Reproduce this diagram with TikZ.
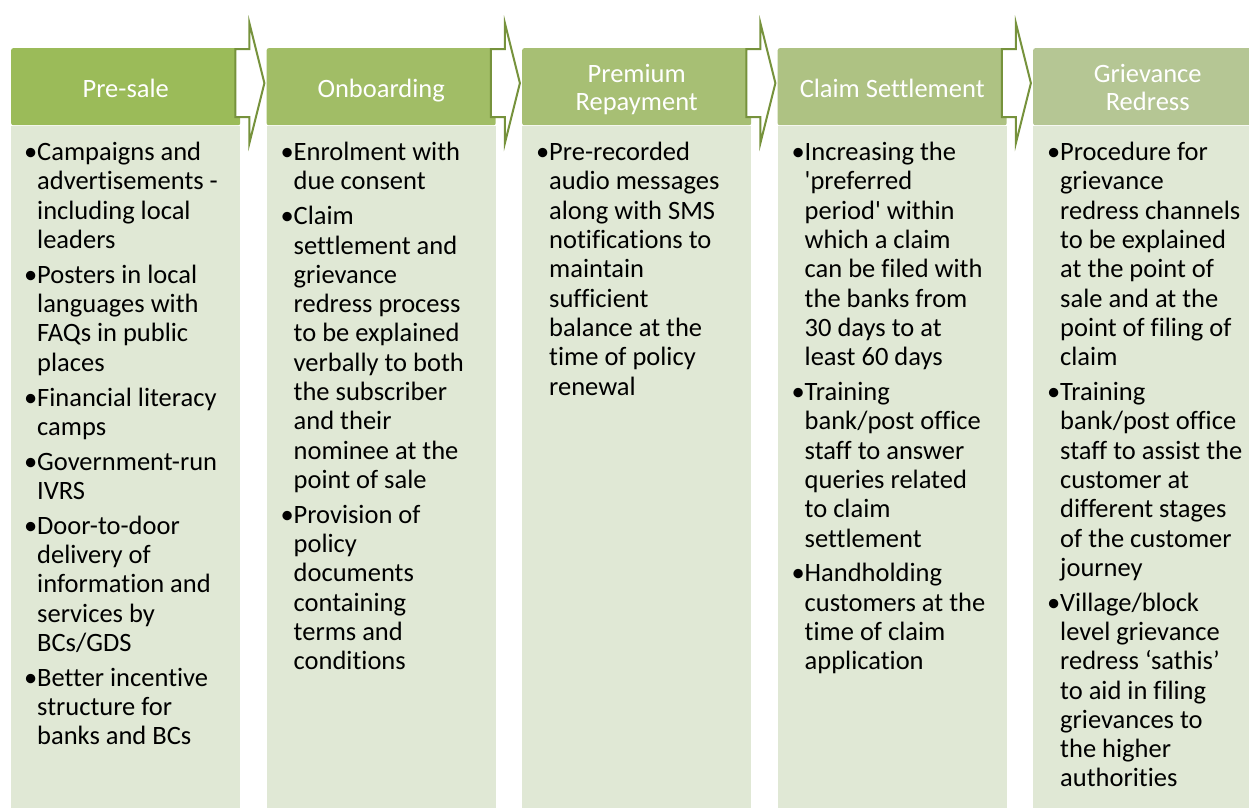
\documentclass[tikz,border=0pt]{standalone}
\usepackage{fontspec}
\setmainfont{Carlito}[Ligatures={TeX,NoCommon}]
\usetikzlibrary{positioning}

\definecolor{headA}{RGB}{155,187,89}
\definecolor{headB}{RGB}{161,189,102}
\definecolor{headC}{RGB}{167,191,116}
\definecolor{headD}{RGB}{174,194,131}
\definecolor{headE}{RGB}{181,198,148}
\definecolor{panelfill}{RGB}{224,232,213}
\definecolor{arrowline}{RGB}{118,146,60}

% bullet hanging left of the item text
\newcommand{\bul}{\strut\llap{•}}

\tikzset{
  stage/.style={rounded corners=2pt, minimum width=229pt, minimum height=77pt, anchor=north west, inner sep=0pt},
  panel/.style={fill=panelfill, minimum width=229pt, minimum height=682pt, anchor=north west, inner sep=0pt},
  stagetext/.style={anchor=north, inner sep=0pt, align=center, text=white, font=\fontsize{26.5}{28}\selectfont},
  points/.style={inner sep=0pt, align=left, font=\fontsize{26.5}{29.3}\selectfont},
  flowarrow/.style={draw=arrowline, fill=white, line width=2pt, line join=miter}
}

\begin{document}
\begin{tikzpicture}[x=1pt,y=-1pt]
    \useasboundingbox (0,0) rectangle (1249,807);
    \clip (0,0) rectangle (1249,807);

    % headers
    \node[stage, fill=headA] (h1) at (11,48) {};
    \node[stage, fill=headB] (h2) at (266.5,48) {};
    \node[stage, fill=headC] (h3) at (522,48) {};
    \node[stage, fill=headD] (h4) at (777.5,48) {};
    \node[stage, fill=headE] (h5) at (1033,48) {};

    % panels
    \node[panel] (b1) at (h1.south west) {};
    \node[panel] (b2) at (h2.south west) {};
    \node[panel] (b3) at (h3.south west) {};
    \node[panel] (b4) at (h4.south west) {};
    \node[panel] (b5) at (h5.south west) {};

    \node[stagetext] (l1) at ([yshift=9pt]h1.center) {\strut Pre-sale};
    \node[stagetext] (l2) at ([yshift=9pt]h2.center) {\strut Onboarding};
    \node[stagetext] (l3) at ([yshift=24pt]h3.center) {\strut Premium\\Repayment};
    \node[stagetext] (l4) at ([yshift=9pt]h4.center) {\strut Claim Settlement};
    \node[stagetext] (l5) at ([yshift=24pt]h5.center) {\strut Grievance\\Redress};

    \node[points, below right=14.5pt and 26pt of b1.north west] (p1) {\bul Campaigns and\\ advertisements -\\ including local\\ leaders
      \\[5.5pt]\bul Posters in local\\ languages with\\ FAQs in public\\ places
      \\[5.5pt]\bul Financial literacy\\ camps
      \\[5.5pt]\bul Government-run\\ IVRS
      \\[5.5pt]\bul Door-to-door\\ delivery of\\ information and\\ services by\\ BCs/GDS
      \\[5.5pt]\bul Better incentive\\ structure for\\ banks and BCs};

    \node[points, below right=14.5pt and 27pt of b2.north west] (p2) {\bul Enrolment with\\ due consent
      \\[5.5pt]\bul Claim\\ settlement and\\ grievance\\ redress process\\ to be explained\\ verbally to both\\ the subscriber\\ and their\\ nominee at the\\ point of sale
      \\[5.5pt]\bul Provision of\\ policy\\ documents\\ containing\\ terms and\\ conditions};

    \node[points, below right=14.5pt and 27pt of b3.north west] (p3) {\bul Pre-recorded\\ audio messages\\ along with SMS\\ notifications to\\ maintain\\ sufficient\\ balance at the\\ time of policy\\ renewal};

    \node[points, below right=14.5pt and 27pt of b4.north west] (p4) {\bul Increasing the\\ \textquotesingle preferred\\ period\textquotesingle{} within\\ which a claim\\ can be filed with\\ the banks from\\ 30 days to at\\ least 60 days
      \\[5.5pt]\bul Training\\ bank/post office\\ staff to answer\\ queries related\\ to claim\\ settlement
      \\[5.5pt]\bul Handholding\\ customers at the\\ time of claim\\ application};

    \node[points, below right=14.5pt and 27pt of b5.north west] (p5) {\bul Procedure for\\ grievance\\ redress channels\\ to be explained\\ at the point of\\ sale and at the\\ point of filing of\\ claim
      \\[5.5pt]\bul Training\\ bank/post office\\ staff to assist the\\ customer at\\ different stages\\ of the customer\\ journey
      \\[5.5pt]\bul Village/block\\ level grievance\\ redress ‘sathis’\\ to aid in filing\\ grievances to\\ the higher\\ authorities};

    % block arrows between the stages
    \draw[flowarrow, shift={(h1.east)}] (-5,-37.5) -- (9,-37.5) -- (9,-63.5) -- (24,-3.5) -- (9,56.5) -- (9,30.5) -- (-5,30.5) -- cycle;
    \draw[flowarrow, shift={(h2.east)}] (-5,-37.5) -- (9,-37.5) -- (9,-63.5) -- (24,-3.5) -- (9,56.5) -- (9,30.5) -- (-5,30.5) -- cycle;
    \draw[flowarrow, shift={(h3.east)}] (-5,-37.5) -- (9,-37.5) -- (9,-63.5) -- (24,-3.5) -- (9,56.5) -- (9,30.5) -- (-5,30.5) -- cycle;
    \draw[flowarrow, shift={(h4.east)}] (-5,-37.5) -- (9,-37.5) -- (9,-63.5) -- (24,-3.5) -- (9,56.5) -- (9,30.5) -- (-5,30.5) -- cycle;
\end{tikzpicture}
\end{document}
